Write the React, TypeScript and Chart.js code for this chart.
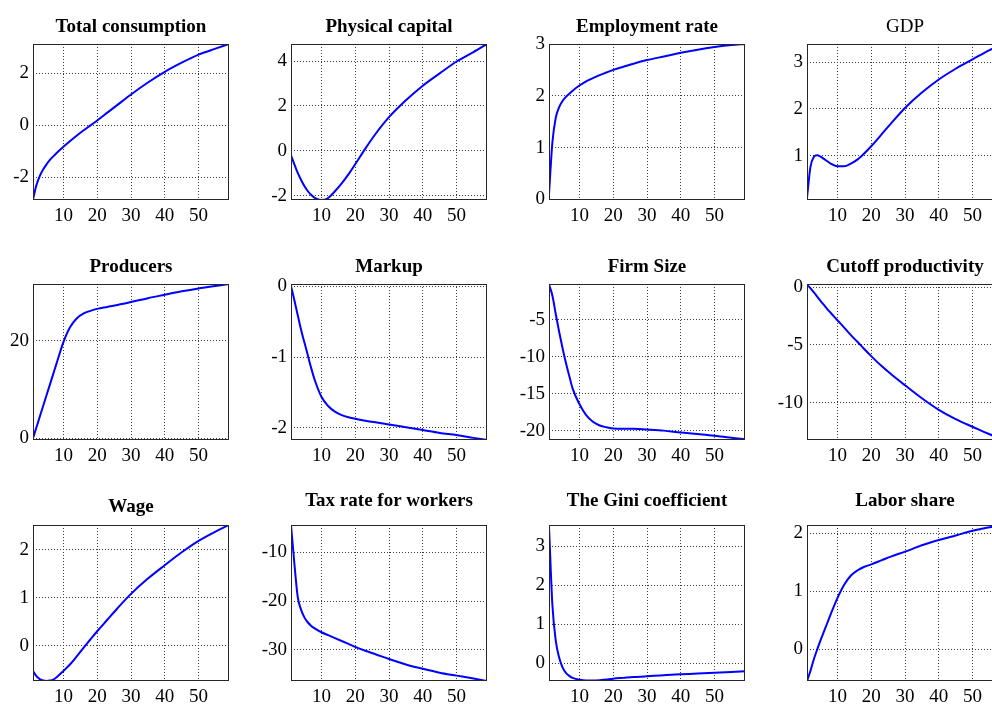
import { useEffect, useRef } from 'react';
import { Chart, registerables } from 'chart.js';

Chart.register(...registerables);

// ---------- data ----------
const periods = [1, 2, 3, 4, 5, 6, 7, 8, 10, 12, 14, 16, 18, 20, 23, 26, 30, 35, 40, 45, 50, 55, 59];
const xTickValues = [10, 20, 30, 40, 50];

const panelTitles = [
  'Total consumption', 'Physical capital', 'Employment rate', 'GDP',
  'Producers', 'Markup', 'Firm Size', 'Cutoff productivity',
  'Wage', 'Tax rate for workers', 'The Gini coefficient', 'Labor share',
];

const totalConsumption = [-2.85, -2.3, -1.95, -1.7, -1.5, -1.33, -1.19, -1.06, -0.82, -0.6, -0.39, -0.19, -0.0, 0.19, 0.49, 0.79, 1.19, 1.65, 2.06, 2.41, 2.72, 2.95, 3.13];
const physicalCapital = [-0.2, -0.6, -0.98, -1.3, -1.58, -1.8, -1.97, -2.09, -2.19, -2.1, -1.8, -1.45, -1.05, -0.6, 0.1, 0.75, 1.5, 2.25, 2.9, 3.45, 3.98, 4.4, 4.76];
const employmentRate = [0.1, 1.1, 1.58, 1.78, 1.9, 1.98, 2.04, 2.1, 2.2, 2.28, 2.34, 2.4, 2.45, 2.5, 2.56, 2.62, 2.69, 2.76, 2.83, 2.89, 2.94, 2.98, 3.0];
const gdp = [0.1, 0.75, 0.97, 1.01, 0.98, 0.93, 0.88, 0.83, 0.77, 0.77, 0.83, 0.92, 1.05, 1.2, 1.45, 1.7, 2.02, 2.35, 2.63, 2.86, 3.06, 3.26, 3.39];
const producers = [0, 2.2, 4.4, 6.6, 8.8, 11, 13.2, 15.4, 19.7, 22.8, 24.6, 25.6, 26.1, 26.5, 26.9, 27.3, 27.9, 28.7, 29.4, 30.1, 30.7, 31.2, 31.6];
const markup = [0, -0.2, -0.41, -0.62, -0.8, -0.98, -1.16, -1.32, -1.56, -1.69, -1.77, -1.82, -1.85, -1.87, -1.9, -1.92, -1.95, -1.99, -2.03, -2.07, -2.1, -2.14, -2.17];
const firmSize = [-0.2, -1.7, -4.2, -6.6, -8.8, -10.8, -12.6, -14.3, -16.4, -17.9, -18.8, -19.3, -19.55, -19.7, -19.75, -19.75, -19.85, -20.0, -20.25, -20.45, -20.7, -20.95, -21.2];
const cutoffProductivity = [0.2, -0.1, -0.45, -0.82, -1.2, -1.55, -1.9, -2.22, -2.87, -3.5, -4.15, -4.75, -5.37, -5.96, -6.8, -7.55, -8.48, -9.6, -10.6, -11.4, -12.06, -12.7, -13.1];
const wage = [-0.53, -0.64, -0.7, -0.73, -0.74, -0.73, -0.71, -0.66, -0.53, -0.39, -0.22, -0.04, 0.13, 0.3, 0.54, 0.78, 1.08, 1.4, 1.68, 1.95, 2.19, 2.38, 2.52];
const taxRateWorkers = [-4.4, -12.3, -19.2, -21.8, -23.4, -24.4, -25.1, -25.6, -26.4, -27.0, -27.6, -28.2, -28.8, -29.4, -30.2, -30.9, -31.9, -33.0, -33.9, -34.7, -35.3, -35.9, -36.4];
const giniCoefficient = [3.5, 1.5, 0.58, 0.15, -0.1, -0.24, -0.32, -0.37, -0.42, -0.44, -0.44, -0.43, -0.41, -0.39, -0.37, -0.35, -0.33, -0.3, -0.28, -0.26, -0.24, -0.22, -0.2];
const laborShare = [-0.55, -0.38, -0.18, -0.01, 0.15, 0.3, 0.45, 0.6, 0.88, 1.11, 1.27, 1.36, 1.42, 1.46, 1.53, 1.6, 1.68, 1.79, 1.88, 1.96, 2.04, 2.1, 2.14];

const panelSeries = [
  totalConsumption, physicalCapital, employmentRate, gdp,
  producers, markup, firmSize, cutoffProductivity,
  wage, taxRateWorkers, giniCoefficient, laborShare,
];

const yTickValues = [
  [-2, 0, 2], [-2, 0, 2, 4], [0, 1, 2, 3], [1, 2, 3],
  [0, 20], [-2, -1, 0], [-20, -15, -10, -5], [-10, -5, 0],
  [0, 1, 2], [-30, -20, -10], [0, 1, 2, 3], [0, 1, 2],
];

const yMins = [-2.87, -2.19, -0.01, 0.05, -0.35, -2.17, -21.27, -13.2, -0.74, -36.4, -0.45, -0.55];
const yMaxs = [3.13, 4.76, 3.0, 3.39, 31.6, 0.03, -0.13, 0.26, 2.52, -4.4, 3.54, 2.14];

const xMin = 1;
const xMax = 59;

// ---------- layout / style ----------
const PLOT_LEFT = [33, 291, 549, 807];
const PLOT_TOP = [44, 284, 525];
const PLOT_W = 196;
const PLOT_H = 156;
const Y_AXIS_W = 50;
const X_AXIS_H = 30;
const TITLE_SPACE = 44;
const RIGHT_PAD = 8;
const CANVAS_W = Y_AXIS_W + PLOT_W + RIGHT_PAD;
const CANVAS_H = TITLE_SPACE + PLOT_H + X_AXIS_H;
const TITLE_GAP = [12, 12, 12, 12, 12, 12, 12, 12, 13, 19, 19, 19];
const TITLE_BOLD = [true, true, true, false, true, true, true, true, true, true, true, true];
const SERIF = "'Liberation Serif', 'Times New Roman', serif";

const panelPlugin = {
  id: 'panelDecor',
  afterDraw(chart: any, _args: any, opts: any) {
    const { ctx, chartArea } = chart;
    const { left, top, right, bottom } = chartArea;
    ctx.save();
    ctx.strokeStyle = '#262626';
    ctx.lineWidth = 1;
    ctx.strokeRect(Math.round(left) + 0.5, Math.round(top) + 0.5, Math.round(right - left) - 1, Math.round(bottom - top) - 1);
    ctx.fillStyle = '#000';
    ctx.font = `${opts.bold ? 'bold ' : ''}19px ${SERIF}`;
    ctx.textAlign = 'center';
    ctx.textBaseline = 'alphabetic';
    ctx.fillText(opts.text, (left + right) / 2, top - opts.gap);
    ctx.restore();
  },
};

function Panel({ index }: { index: number }) {
  const ref = useRef<HTMLCanvasElement>(null);
  const r = Math.floor(index / 4);
  const c = index % 4;

  useEffect(() => {
    if (!ref.current) return;
    const series = panelSeries[index];
    const chart = new Chart(ref.current, {
      type: 'line',
      data: {
        datasets: [
          {
            data: periods.map((x, i) => ({ x, y: series[i] })),
            borderColor: '#0000ff',
            borderWidth: 2,
            pointRadius: 0,
            fill: false,
            cubicInterpolationMode: 'monotone',
          },
        ],
      },
      options: {
        responsive: false,
        animation: false,
        events: [],
        layout: { padding: { top: TITLE_SPACE, left: 0, right: RIGHT_PAD, bottom: 0 } },
        plugins: {
          legend: { display: false },
          tooltip: { enabled: false },
          title: { display: false },
          panelDecor: { text: panelTitles[index], gap: TITLE_GAP[index], bold: TITLE_BOLD[index] },
        } as any,
        scales: {
          x: {
            type: 'linear',
            min: xMin,
            max: xMax,
            afterBuildTicks: (s: any) => {
              s.ticks = xTickValues.map((v) => ({ value: v }));
            },
            afterFit: (s: any) => {
              s.height = X_AXIS_H;
            },
            grid: { color: '#3a3a3a', lineWidth: 1, drawTicks: false },
            border: { display: false, dash: [1, 2] },
            ticks: {
              color: '#000',
              font: { family: SERIF, size: 19 },
              padding: 5,
              maxRotation: 0,
              autoSkip: false,
              callback: (v: any) => String(v),
            },
          },
          y: {
            type: 'linear',
            min: yMins[index],
            max: yMaxs[index],
            afterBuildTicks: (s: any) => {
              s.ticks = yTickValues[index].map((v) => ({ value: v }));
            },
            afterFit: (s: any) => {
              s.width = Y_AXIS_W;
            },
            grid: { color: '#3a3a3a', lineWidth: 1, drawTicks: false },
            border: { display: false, dash: [1, 2] },
            ticks: {
              color: '#000',
              font: { family: SERIF, size: 19 },
              padding: 4,
              autoSkip: false,
              callback: (v: any) => String(v),
            },
          },
        },
      } as any,
      plugins: [panelPlugin],
    });
    return () => chart.destroy();
  }, [index]);

  return (
    <canvas
      ref={ref}
      width={CANVAS_W}
      height={CANVAS_H}
      style={{
        position: 'absolute',
        left: PLOT_LEFT[c] - Y_AXIS_W,
        top: PLOT_TOP[r] - TITLE_SPACE,
        width: CANVAS_W,
        height: CANVAS_H,
      }}
    />
  );
}

export default function App() {
  return (
    <div
      style={{
        position: 'fixed',
        left: 0,
        top: 0,
        width: 992,
        height: 711,
        overflow: 'hidden',
        background: '#fff',
      }}
    >
      {panelTitles.map((_, i) => (
        <Panel key={i} index={i} />
      ))}
    </div>
  );
}
